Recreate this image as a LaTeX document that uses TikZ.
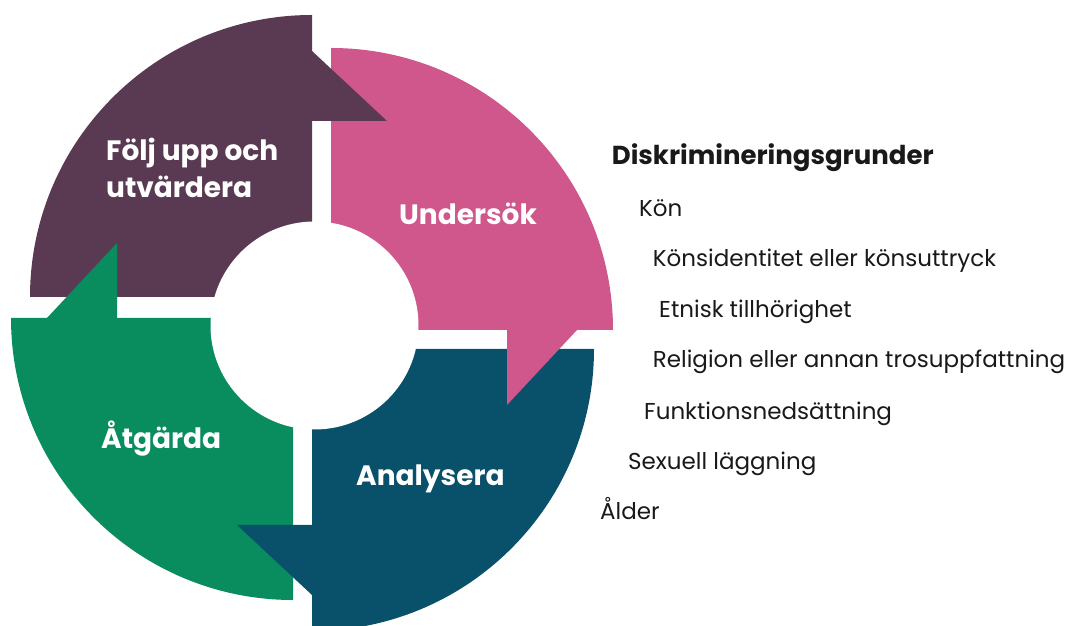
\documentclass[tikz,border=0pt]{standalone}
\usepackage{fontspec}
\setmainfont{Poppins}
\usepackage{tikz}
\definecolor{plum}{RGB}{90,58,82}
\definecolor{rose}{RGB}{207,87,139}
\definecolor{petrol}{RGB}{9,80,106}
\definecolor{jade}{RGB}{9,140,94}
\definecolor{ink}{RGB}{25,25,25}

\begin{document}
\begin{tikzpicture}[x=1pt, y=1pt,
    steplabel/.style={text=white, font=\bfseries\fontsize{28}{36.6}\selectfont,
      inner sep=0pt, anchor=base west, align=left},
    grundlabel/.style={text=ink, font=\fontsize{23}{28}\selectfont,
      inner sep=0pt, anchor=base west},
  ]
    \fill[white] (0,0) rectangle (1074,626);
    \clip (0,0) rectangle (1074,626);
    \def\R{282}
    %% Quadrants of the wheel
    \fill[plum]   (312,329) -- ++(180:\R) arc (180:90:\R) -- cycle;
    \fill[rose]   (331,296) -- ++(90:\R)  arc (90:0:\R)   -- cycle;
    \fill[petrol] (312,277) -- ++(0:\R)   arc (0:-90:\R)  -- cycle;
    \fill[jade]   (293,308) -- ++(270:\R) arc (270:180:\R) -- cycle;
    %% Arrow heads
    \fill[plum]   (312,505) -- (312,575) -- (387,505) -- cycle;
    \fill[rose]   (507,296) -- (577,296) -- (507,221) -- cycle;
    \fill[petrol] (312,101) -- (312,31)  -- (237,101) -- cycle;
    \fill[jade]   (117,308) -- (47,308)  -- (117,383) -- cycle;
    %% Hole
    \fill[white] (314.5,300.5) circle (104);
    %% Steps
    \path
    (106,428.4) node[steplabel] (folj) {Följ upp och\\utvärdera}
    (399,401.5) node[steplabel] (undersok) {Undersök}
    (356,140) node[steplabel] (analysera) {Analysera}
    (101,177.4) node[steplabel] (atgarda) {Åtgärda}
    ;
    %% Grounds
    \path
    (611.7,461) node[grundlabel, font=\bfseries\fontsize{26}{28}\selectfont] (grunder) {Diskrimineringsgrunder}
    (639,409.3) node[grundlabel] (kon) {Kön}
    (652.7,359.3) node[grundlabel] (identitet) {Könsidentitet eller könsuttryck}
    (659,308) node[grundlabel] (etnisk) {Etnisk tillhörighet}
    (652.7,258) node[grundlabel] (religion) {Religion eller annan trosuppfattning}
    (644,206) node[grundlabel] (funktion) {Funktionsnedsättning}
    (628,156) node[grundlabel] (sexuell) {Sexuell läggning}
    (600,106) node[grundlabel] (alder) {Ålder}
    ;
\end{tikzpicture}
\end{document}
